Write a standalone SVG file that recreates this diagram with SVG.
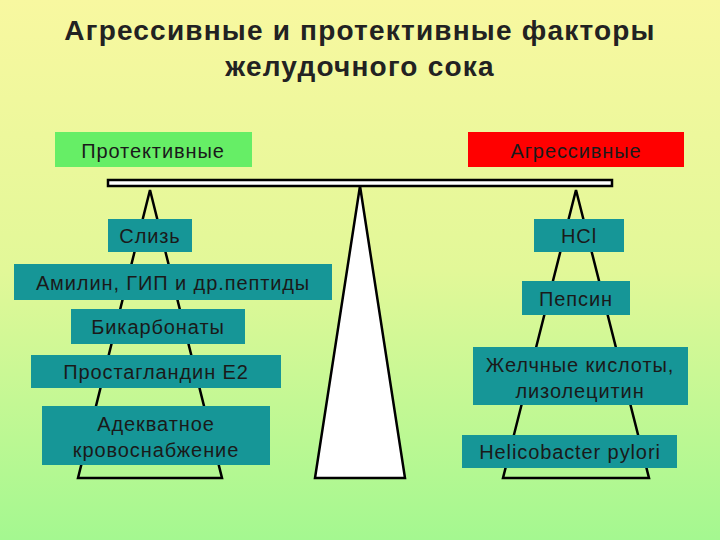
<svg xmlns="http://www.w3.org/2000/svg" width="720" height="540" viewBox="0 0 720 540">
<defs>
<linearGradient id="bg" x1="0" y1="0" x2="0" y2="1">
<stop offset="0" stop-color="#f8f8a0"/><stop offset="0.5" stop-color="#e2f898"/><stop offset="1" stop-color="#a4f890"/>
</linearGradient>
<style>
.t{font-family:"Liberation Sans",Arial,sans-serif;font-size:20px;letter-spacing:0.9px;fill:#1a1a1a;text-anchor:middle}
.h{font-size:28px;font-weight:bold;letter-spacing:1.2px;fill:#222}
.b{fill:#169697}
.l{fill:none;stroke:#000;stroke-width:2.5}
</style>
</defs>
<rect width="720" height="540" fill="url(#bg)"/>
<text x="360" y="40" class="t h">Агрессивные и протективные факторы</text>
<text x="360" y="76" class="t h">желудочного сока</text>
<g id="connectors">
<polygon points="360,186 315,478 405,478" fill="#fff" stroke="#000" stroke-width="2.5"/>
<rect x="108" y="180" width="504" height="6" fill="#fff" stroke="#000" stroke-width="2.5"/>
<polygon class="l" points="150,190 78,478 222,478"/>
<polygon class="l" points="576,190 503,478 649,478"/>
</g>
<g id="prot"><rect x="55" y="132" width="197" height="35" fill="#66ee66"/><text x="153" y="158" class="t">Протективные</text></g>
<g id="aggr"><rect x="468" y="132" width="216" height="35" fill="#ff0000"/><text x="576" y="158" class="t">Агрессивные</text></g>
<g id="n1"><rect class="b" x="108" y="219" width="84" height="33"/><text x="150" y="243" class="t">Слизь</text></g>
<g id="n2"><rect class="b" x="14" y="264" width="318" height="36"/><text x="173" y="290" class="t">Амилин, ГИП и др.пептиды</text></g>
<g id="n3"><rect class="b" x="71" y="309" width="174" height="35"/><text x="158" y="334" class="t">Бикарбонаты</text></g>
<g id="n4"><rect class="b" x="31" y="355" width="250" height="33"/><text x="156" y="379" class="t">Простагландин Е2</text></g>
<g id="n5"><rect class="b" x="42" y="406" width="228" height="59"/><text x="156" y="431" class="t">Адекватное</text><text x="156" y="457" class="t">кровоснабжение</text></g>
<g id="r1"><rect class="b" x="534" y="219" width="90" height="33"/><text x="579" y="243" class="t">HCl</text></g>
<g id="r2"><rect class="b" x="522" y="281" width="108" height="34"/><text x="576" y="306" class="t">Пепсин</text></g>
<g id="r3"><rect class="b" x="473" y="347" width="215" height="58"/><text x="580" y="372" class="t">Желчные кислоты,</text><text x="580" y="398" class="t">лизолецитин</text></g>
<g id="r4"><rect class="b" x="462" y="435" width="215" height="33"/><text x="570" y="459" class="t">Helicobacter pylori</text></g>
</svg>
